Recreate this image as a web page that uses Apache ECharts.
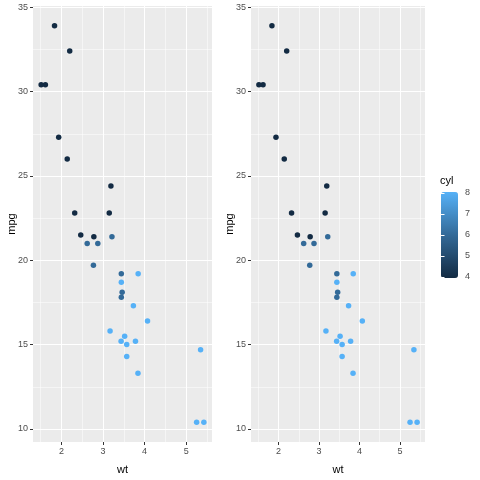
<!DOCTYPE html>
<html><head><meta charset="utf-8">
<script src="https://cdn.jsdelivr.net/npm/echarts@6/dist/echarts.min.js"></script>
<style>html,body{margin:0;padding:0;background:#fff}#c{width:480px;height:480px}</style>
</head><body><div id="c"></div>
<script>
const wt  = [2.620,2.875,2.320,3.215,3.440,3.460,3.570,3.190,3.150,3.440,3.440,4.070,3.730,3.780,5.250,5.424,5.345,2.200,1.615,1.835,2.465,3.520,3.435,3.840,3.845,1.935,2.140,1.513,3.170,2.770,3.570,2.780];
const mpg = [21.0,21.0,22.8,21.4,18.7,18.1,14.3,24.4,22.8,19.2,17.8,16.4,17.3,15.2,10.4,10.4,14.7,32.4,30.4,33.9,21.5,15.5,15.2,13.3,19.2,27.3,26.0,30.4,15.8,19.7,15.0,21.4];
const cyl = [6,6,4,6,8,6,8,4,4,6,6,8,8,8,8,8,8,4,4,4,4,8,8,8,8,4,4,4,8,6,8,4];
const xMajor = [2,3,4,5];
const xMinor = [1.5,2.5,3.5,4.5,5.5];
const yMajor = [10,15,20,25,30,35];
const yMinor = [12.5,17.5,22.5,27.5,32.5];
const cylTicks = [4,5,6,7,8];

const data = wt.map((w,i)=>[w, mpg[i], cyl[i]]);
const xr = Math.max(...wt)-Math.min(...wt), yr = Math.max(...mpg)-Math.min(...mpg);
const xMin = Math.min(...wt)-0.05*xr, xMax = Math.max(...wt)+0.05*xr;
const yMin = Math.min(...mpg)-0.05*yr, yMax = Math.max(...mpg)+0.05*yr;

const FONT = 'Liberation Sans';
const grids = [
  {left:33, top:6, width:179, height:442, show:true, backgroundColor:'#EBEBEB', borderWidth:0},
  {left:251, top:6, width:174, height:442, show:true, backgroundColor:'#EBEBEB', borderWidth:0},
  {left:441, top:193, width:17, height:84, show:false}
];
const xAxes = [], yAxes = [];
for (let g=0; g<2; g++) {
  xAxes.push({type:'value', gridIndex:g, min:xMin, max:xMax, name:'wt', nameLocation:'middle', nameGap:22, nameMoveOverlap:false,
    nameTextStyle:{color:'#000', fontSize:11, fontFamily:FONT},
    axisLine:{show:false}, axisTick:{show:true, length:3, lineStyle:{color:'#333'}, customValues:xMajor},
    axisLabel:{color:'#4D4D4D', fontSize:9, fontFamily:FONT, margin:5, customValues:xMajor},
    splitLine:{show:true, lineStyle:{color:'#fff', width:1}}});
  xAxes.push({type:'value', gridIndex:g, min:xMin, max:xMax,
    axisLine:{show:false}, axisTick:{show:false, customValues:xMinor}, axisLabel:{show:false, customValues:xMinor},
    splitLine:{show:true, lineStyle:{color:'#fff', width:0.5}}});
  yAxes.push({type:'value', gridIndex:g, min:yMin, max:yMax, position:'left', name:'mpg', nameLocation:'middle', nameGap:16, nameMoveOverlap:false,
    nameTextStyle:{color:'#000', fontSize:11, fontFamily:FONT},
    axisLine:{show:false}, axisTick:{show:true, length:3, lineStyle:{color:'#333'}, customValues:yMajor},
    axisLabel:{color:'#4D4D4D', fontSize:9, fontFamily:FONT, margin:5, customValues:yMajor},
    splitLine:{show:true, lineStyle:{color:'#fff', width:1}}});
  yAxes.push({type:'value', gridIndex:g, min:yMin, max:yMax, position:'left',
    axisLine:{show:false}, axisTick:{show:false, customValues:yMinor}, axisLabel:{show:false, customValues:yMinor},
    splitLine:{show:true, lineStyle:{color:'#fff', width:0.5}}});
}
xAxes.push({type:'value', gridIndex:2, min:0, max:1, show:false});
yAxes.push({type:'value', gridIndex:2, min:4, max:8, position:'right', z:10,
  axisLine:{show:false}, axisTick:{show:true, inside:true, length:3.5, lineStyle:{color:'#fff', width:1}, customValues:cylTicks},
  axisLabel:{color:'#4D4D4D', fontSize:9, fontFamily:FONT, margin:7, customValues:cylTicks}, splitLine:{show:false}});
yAxes.push({type:'value', gridIndex:2, min:4, max:8, position:'left', z:10,
  axisLine:{show:false}, axisTick:{show:true, inside:true, length:3.5, lineStyle:{color:'#fff', width:1}, customValues:cylTicks},
  axisLabel:{show:false, customValues:cylTicks}, splitLine:{show:false}});

const option = {
  animation:false,
  backgroundColor:'#fff',
  title:{text:'cyl', left:440, top:175, padding:0, textStyle:{fontSize:11, fontWeight:'normal', color:'#000', fontFamily:FONT}},
  grid: grids,
  xAxis: xAxes,
  yAxis: yAxes,
  visualMap:{type:'continuous', min:4, max:8, dimension:2, seriesIndex:[0,1], calculable:false,
    left:441, top:192, itemWidth:17, itemHeight:86, padding:0, text:null, showLabel:false,
    inRange:{color:['#132B43','#336A98','#56B1F7'], opacity:1}},
  series:[
    {type:'scatter', xAxisIndex:0, yAxisIndex:0, data:data, symbolSize:5.5, encode:{x:0,y:1}, itemStyle:{opacity:1}},
    {type:'scatter', xAxisIndex:2, yAxisIndex:2, data:data, symbolSize:5.5, encode:{x:0,y:1}, itemStyle:{opacity:1}}
  ]
};
const chart = echarts.init(document.getElementById('c'), null, {renderer:'canvas'});
chart.setOption(option);
</script></body></html>
